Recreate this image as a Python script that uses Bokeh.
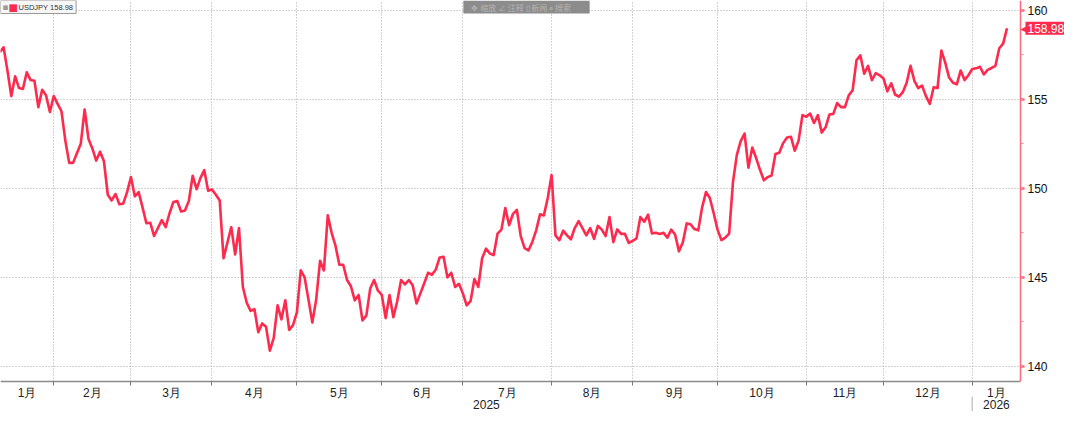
import pandas as pd
from bokeh.plotting import figure
from bokeh.models import Range1d, FixedTicker, SingleIntervalTicker, Label, BoxAnnotation
from bokeh.embed import file_html
from bokeh.resources import INLINE

# ---------------- data ----------------
series_name = "USDJPY"
last_text = "158.98"
start_date = "2025-01-14"   # first trading day shown (weekdays)
y_interval = 5

usdjpy = [
    157.64, 157.91, 156.60, 155.17, 156.28, 155.62, 155.57, 156.51, 156.07, 156.03,
    154.55, 155.53, 155.21, 154.28, 155.17, 154.73, 154.32, 152.67, 151.42, 151.42,
    151.96, 152.49, 154.42, 152.76, 152.23, 151.55, 152.05, 151.51, 149.63, 149.31,
    149.67, 149.10, 149.13, 149.78, 150.62, 149.54, 149.78, 148.92, 148.03, 148.06,
    147.31, 147.76, 148.20, 147.81, 148.59, 149.22, 149.28, 148.69, 148.74, 149.28,
    150.70, 149.94, 150.56, 151.01, 149.85, 149.93, 149.63, 149.31, 146.06, 146.95,
    147.81, 146.27, 147.76, 144.45, 143.56, 143.11, 143.20, 141.91, 142.40, 142.22,
    140.87, 141.59, 143.42, 142.63, 143.70, 142.04, 142.31, 143.02, 145.38, 144.99,
    143.74, 142.45, 143.74, 145.92, 145.38, 148.47, 147.49, 146.77, 145.70, 145.70,
    144.84, 144.49, 143.70, 144.00, 142.57, 142.84, 144.36, 144.84, 144.24, 144.00,
    142.70, 144.00, 142.75, 143.65, 144.84, 144.59, 144.84, 144.54, 143.52, 144.09,
    144.66, 145.25, 145.13, 145.43, 146.11, 146.15, 144.99, 145.25, 144.45, 144.63,
    144.09, 143.42, 143.65, 144.90, 144.45, 146.06, 146.60, 146.33, 146.24, 147.45,
    147.67, 148.88, 147.92, 148.56, 148.78, 147.31, 146.63, 146.50, 146.98, 147.63,
    148.53, 148.47, 149.45, 150.74, 147.35, 147.08, 147.61, 147.35, 147.13, 147.76,
    148.15, 147.76, 147.35, 147.76, 147.15, 147.88, 147.67, 147.31, 148.38, 146.97,
    147.68, 147.43, 147.43, 146.92, 147.04, 147.18, 148.38, 148.11, 148.51, 147.45,
    147.49, 147.43, 147.49, 147.22, 147.67, 147.40, 146.45, 146.95, 148.02, 147.97,
    147.70, 147.63, 148.92, 149.78, 149.45, 148.59, 147.67, 147.08, 147.22, 147.45,
    150.35, 151.87, 152.64, 153.07, 151.15, 152.28, 151.69, 151.03, 150.44, 150.62,
    150.71, 151.92, 151.99, 152.53, 152.85, 152.89, 152.10, 152.67, 154.10, 154.01,
    154.19, 153.66, 154.10, 153.12, 153.42, 154.14, 154.17, 154.78, 154.55, 154.55,
    155.21, 155.50, 157.18, 157.46, 156.43, 156.87, 156.07, 156.46, 156.34, 156.16,
    155.44, 155.89, 155.26, 155.14, 155.39, 155.92, 156.87, 156.03, 155.62, 155.76,
    155.17, 154.73, 155.67, 155.62, 157.73, 157.05, 156.21, 155.92, 155.83, 156.61,
    156.07, 156.34, 156.69, 156.73, 156.82, 156.39, 156.64, 156.75, 156.87, 157.86,
    158.12, 158.98,
]

# ---------------- layout helpers ----------------
dates = pd.bdate_range(start_date, periods=len(usdjpy))
idx = list(range(len(usdjpy)))

W, H = 1064, 411
AX_PX = 1020            # x pixel of the value axis line
BOT_PX = 30             # space below the time axis
X0, X_AX = 0.2, 264.5
X_END = X0 + (X_AX - X0) * W / AX_PX
Y0, Y1 = 139.14, 160.54
ppy = (H - BOT_PX) / (Y1 - Y0)
Y_BOT = Y0 - BOT_PX / ppy
Y_SEP = Y0 - 15 / ppy
Y_YEAR = Y0 - 23 / ppy

bounds = [i for i in range(1, len(dates)) if dates[i].month != dates[i - 1].month]
edges = [X0] + bounds + [X_AX]
month_labels = [f"{dates[0].month}月"] + [f"{dates[b].month}月" for b in bounds]
mids = [round((edges[k] + edges[k + 1]) / 2, 2) for k in range(len(edges) - 1)]

ybounds = [b for b in bounds if dates[b].year != dates[b - 1].year]
yedges = [X0] + ybounds + [X_AX]
year_labels = [str(dates[0].year)] + [str(dates[b].year) for b in ybounds]
ymids = [(yedges[k] + yedges[k + 1]) / 2 for k in range(len(yedges) - 1)]

RED = "#ff2a4d"

p = figure(width=W, height=H, x_range=Range1d(X0, X_END), y_range=Range1d(Y_BOT, Y1),
           output_backend="svg", toolbar_location=None, y_axis_location="right",
           min_border_left=0, min_border_top=0, min_border_right=0, min_border_bottom=0,
           outline_line_color=None, background_fill_color="white", border_fill_color="white")

# grid
p.xgrid.ticker = FixedTicker(ticks=bounds)
for g in (p.xgrid, p.ygrid):
    g.grid_line_color = "#a8a8a8"
    g.grid_line_dash = "1 2"
    g.grid_line_width = 1

# blank areas outside the plotting region (hide grid there)
p.add_layout(BoxAnnotation(left=X_AX, fill_color="white", fill_alpha=1, line_color=None, level="glyph"))
p.add_layout(BoxAnnotation(top=Y0, fill_color="white", fill_alpha=1, line_color=None, level="glyph"))

# series
p.line(idx, usdjpy, line_color=RED, line_width=2.6, line_join="round")

# x axis (months)
xa = p.xaxis[0]
xa.fixed_location = Y0
xa.ticker = FixedTicker(ticks=mids, minor_ticks=bounds)
xa.major_label_overrides = dict(zip(mids, month_labels))
xa.bounds = (X0, X_AX)
xa.major_tick_line_color = None
xa.major_tick_out = 0
xa.major_tick_in = 0
xa.minor_tick_out = 4
xa.minor_tick_in = 0
xa.minor_tick_line_color = "#777777"
xa.axis_line_color = "#8a8a8a"
xa.axis_line_width = 1.5
xa.major_label_standoff = 0
xa.major_label_text_font = "Liberation Sans"
xa.major_label_text_font_size = "12px"
xa.major_label_text_color = "#222222"

# year row
for xm, lab in zip(ymids, year_labels):
    p.add_layout(Label(x=xm, y=Y_YEAR, text=lab, text_align="center", text_baseline="middle",
                       text_font="Liberation Sans", text_font_size="12px", text_color="#222222"))
p.segment(x0=ybounds, y0=[Y_SEP] * len(ybounds), x1=ybounds, y1=[Y_BOT] * len(ybounds),
          line_color="#c8c8c8", line_width=1.5, level="overlay")

# value axis (drawn at fixed position)
ya = p.yaxis[0]
ya.fixed_location = X_AX
ya.bounds = (Y0, Y1)
ya.ticker = SingleIntervalTicker(interval=y_interval, num_minor_ticks=2)
ya.axis_line_color = "#ff6a80"
ya.axis_line_width = 1.5
ya.major_tick_line_color = RED
ya.major_tick_line_width = 2
ya.major_tick_out = 4
ya.major_tick_in = 0
ya.minor_tick_line_color = "#ff8a9a"
ya.minor_tick_out = 3
ya.minor_tick_in = 0
ya.major_label_standoff = 3
ya.major_label_text_font = "Liberation Sans"
ya.major_label_text_font_size = "12px"
ya.major_label_text_color = "#111111"

# last value tag
p.add_layout(Label(x=X_AX, y=usdjpy[-1], text="\u25c0", text_align="left", text_baseline="middle",
                   text_font="DejaVu Sans", text_font_size="10px", text_color=RED, x_offset=0))
p.add_layout(Label(x=X_AX, y=usdjpy[-1], text=last_text, text_align="left", text_baseline="middle",
                   text_font="Liberation Sans", text_font_size="12px", text_color="white",
                   background_fill_color=RED, x_offset=5,
                   padding=dict(left=2, right=2, top=2, bottom=2)))

# legend box (top-left)
p.add_layout(Label(x=X0, y=Y1, text=f"{series_name} {last_text}", text_align="left", text_baseline="top",
                   text_font="Liberation Sans", text_font_size="7.5px", text_color="#333333",
                   background_fill_color="#f6f6f6", border_line_color="#9a9a9a",
                   padding=dict(left=18, right=3, top=2, bottom=2)))
p.add_layout(Label(x=X0, y=Y1, text="\u25aa", text_align="left", text_baseline="top", x_offset=2, y_offset=-1,
                   text_font="DejaVu Sans", text_font_size="9px", text_color="#9a9a9a"))
p.add_layout(Label(x=X0, y=Y1, text="\u25a0", text_align="left", text_baseline="top", x_offset=8, y_offset=-1,
                   text_font="DejaVu Sans", text_font_size="10px", text_color=RED))

# faint chart toolbar (top centre)
p.add_layout(Label(x=136.5, y=Y1, text="\u2725 缩放   \u2220 注释   \u25af 新闻   \u2315 搜索",
                   text_align="center", text_baseline="top",
                   text_font="Noto Sans CJK SC", text_font_size="8px", text_color="#b4b4b4",
                   background_fill_color="#8c8c8c", padding=dict(left=8, right=8, top=1, bottom=1)))

open("out.html", "w").write(file_html(p, INLINE))
